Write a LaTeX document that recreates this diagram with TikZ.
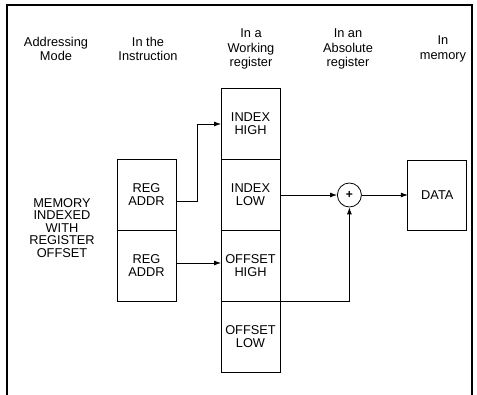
\documentclass[tikz,border=0pt]{standalone}
\usepackage{fontspec}
\setmainfont{Liberation Sans}
\usepackage{tikz}
\usetikzlibrary{arrows.meta, positioning, calc}

\begin{document}
\begin{tikzpicture}[
        x=1pt, y=-1pt,
        font=\fontsize{12.8}{13}\selectfont,
        head/.style={align=center, font=\fontsize{12.8}{14.5}\selectfont},
        regbox/.style={rectangle, draw=black, line width=0.9pt, outer sep=0pt, minimum width=59pt, minimum height=71pt, align=center, inner sep=1pt},
        databox/.style={regbox, minimum height=70pt},
        adder/.style={circle, draw=black, line width=0.8pt, minimum size=24pt, inner sep=0pt, font=\bfseries\large},
        arrow/.style={-{Latex[length=7pt,width=5pt]}, line width=0.8pt}
    ]
        \useasboundingbox (0,0) rectangle (477,395);
        % open frame
        \draw[line width=1.1pt] (7,395) -- (7,5) -- (472,5) -- (472,395);

        % column headings
        \node[head] (hmode)  at (56,49)  {Addressing\\Mode};
        \node[head] (hinstr) at (148,49) {In the\\Instruction};
        \node[head] (hwork)  at (251,49) {In a\\Working\\register};
        \node[head] (habs)   at (348,49) {In an\\Absolute\\register};
        \node[head] (hmem)   at (443,49) {In\\memory};

        % working register stack
        \node[regbox] (ixhigh) at (250.5,124) {INDEX\\HIGH};
        \node[regbox, below=0pt of ixhigh] (ixlow) {INDEX\\LOW};
        \node[regbox, below=0pt of ixlow] (ofhigh) {OFFSET\\HIGH};
        \node[regbox, below=0pt of ofhigh] (oflow) {OFFSET\\LOW};

        % instruction fields
        \node[regbox, left=45pt of ixlow] (rega) {REG\\ADDR};
        \node[regbox, below=0pt of rega] (regb) {REG\\ADDR};

        \node[align=center, font=\fontsize{12.8}{12.5}\selectfont] (mode) at (62,228) {MEMORY\\INDEXED\\WITH\\REGISTER\\OFFSET};

        \node[adder, right=57pt of ixlow] (sum) {+};
        \node[databox, right=46pt of sum] (data) {DATA};

        \draw[arrow] ([yshift=-6pt]rega.east) -- ++(21,0) |- (ixhigh.west);
        \draw[arrow] ([yshift=3pt]regb.east) -- ([yshift=3pt]ofhigh.west);
        \draw[arrow] (ixlow.east) -- (sum.west);
        \draw[arrow] (ofhigh.south east) -| (sum.south);
        \draw[arrow] (sum.east) -- (data.west);
    \end{tikzpicture}
\end{document}
